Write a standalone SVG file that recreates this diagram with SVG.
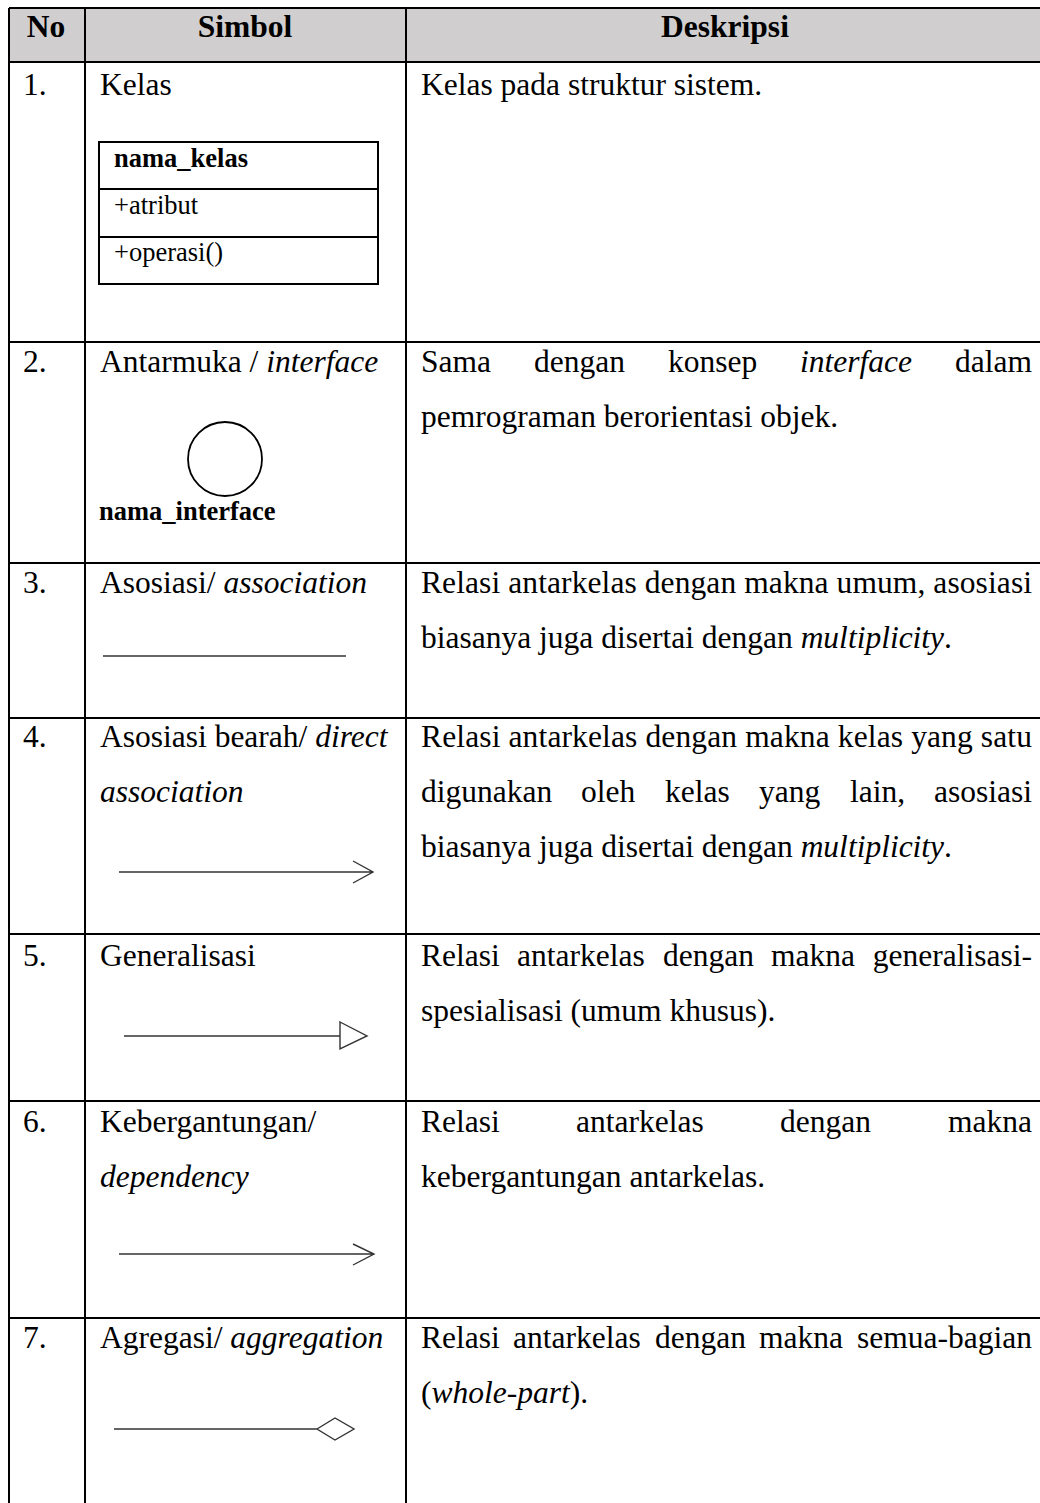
<svg xmlns="http://www.w3.org/2000/svg" width="1040" height="1503" viewBox="0 0 1040 1503">
<style>
.t{font-family:"Liberation Serif","Times New Roman",serif;font-size:31.5px;fill:#000}
.b{font-weight:bold}
.i{font-style:italic}
.s{font-family:"Liberation Serif","Times New Roman",serif;font-size:26.5px;fill:#000}
.grid{stroke:#000;stroke-width:2;fill:none}
.sym{stroke:#333;stroke-width:1.4;fill:none}
.box{stroke:#000;stroke-width:2;fill:#fff}
</style>
<rect width="1040" height="1503" fill="#fff"/>
<g id="table">
<rect x="9" y="8" width="1040" height="54" fill="#d0cece"/>
<path class="grid" d="M9 8H1040M9 62H1040M9 342H1040M9 563H1040M9 718H1040M9 934H1040M9 1101H1040M9 1318H1040M9 8V1503M85 8V1503M406 8V1503"/>
</g>
<g id="header">
<text class="t b" x="46" y="37" text-anchor="middle">No</text>
<text class="t b" x="245" y="37" text-anchor="middle">Simbol</text>
<text class="t b" x="725" y="37" text-anchor="middle">Deskripsi</text>
</g>
<g id="row1">
<text class="t" x="23" y="95">1.</text>
<text class="t" x="100" y="95">Kelas</text>
<g id="class-symbol">
<rect class="box" x="99" y="142" width="279" height="142"/>
<path class="grid" d="M99 189H378M99 237H378"/>
<text class="s b" x="114" y="167">nama_kelas</text>
<text class="s" x="114" y="214">+atribut</text>
<text class="s" x="114" y="261">+operasi()</text>
</g>
<text class="t" x="421" y="95">Kelas pada struktur sistem.</text>
</g>
<g id="row2">
<text class="t" x="23" y="372">2.</text>
<text class="t" x="100" y="372">Antarmuka / <tspan class="i">interface</tspan></text>
<circle cx="225" cy="459" r="37" stroke="#000" stroke-width="1.8" fill="none"/>
<text class="s b" x="99" y="520">nama_interface</text>
<text class="t" y="372"><tspan x="421">Sama</tspan><tspan x="534">dengan</tspan><tspan x="668">konsep</tspan><tspan x="800" class="i">interface</tspan><tspan x="1032" text-anchor="end">dalam</tspan></text>
<text class="t" x="421" y="427">pemrograman berorientasi objek.</text>
</g>
<g id="row3">
<text class="t" x="23" y="593">3.</text>
<text class="t" x="100" y="593">Asosiasi/ <tspan class="i">association</tspan></text>
<text class="t" x="421" y="593" textLength="611" lengthAdjust="spacing">Relasi antarkelas dengan makna umum, asosiasi</text>
<text class="t" x="421" y="648">biasanya juga disertai dengan <tspan class="i">multiplicity</tspan>.</text>
</g>
<g id="row4">
<text class="t" x="23" y="747">4.</text>
<text class="t" x="100" y="747">Asosiasi bearah/ <tspan class="i">direct</tspan></text>
<text class="t i" x="100" y="802">association</text>
<text class="t" x="421" y="747" textLength="611" lengthAdjust="spacing">Relasi antarkelas dengan makna kelas yang satu</text>
<text class="t" y="802"><tspan x="421">digunakan</tspan><tspan x="581">oleh</tspan><tspan x="665">kelas</tspan><tspan x="759">yang</tspan><tspan x="850">lain,</tspan><tspan x="1032" text-anchor="end">asosiasi</tspan></text>
<text class="t" x="421" y="857">biasanya juga disertai dengan <tspan class="i">multiplicity</tspan>.</text>
</g>
<g id="row5">
<text class="t" x="23" y="966">5.</text>
<text class="t" x="100" y="966">Generalisasi</text>
<text class="t" y="966"><tspan x="421">Relasi</tspan><tspan x="517">antarkelas</tspan><tspan x="663">dengan</tspan><tspan x="771">makna</tspan><tspan x="1032" text-anchor="end">generalisasi-</tspan></text>
<text class="t" x="421" y="1021">spesialisasi (umum khusus).</text>
</g>
<g id="row6">
<text class="t" x="23" y="1132">6.</text>
<text class="t" x="100" y="1132">Kebergantungan/</text>
<text class="t i" x="100" y="1187">dependency</text>
<text class="t" y="1132"><tspan x="421">Relasi</tspan><tspan x="576">antarkelas</tspan><tspan x="780">dengan</tspan><tspan x="1032" text-anchor="end">makna</tspan></text>
<text class="t" x="421" y="1187">kebergantungan antarkelas.</text>
</g>
<g id="row7">
<text class="t" x="23" y="1348">7.</text>
<text class="t" x="100" y="1348">Agregasi/ <tspan class="i">aggregation</tspan></text>
<text class="t" y="1348"><tspan x="421">Relasi</tspan><tspan x="513">antarkelas</tspan><tspan x="655">dengan</tspan><tspan x="759">makna</tspan><tspan x="1032" text-anchor="end">semua-bagian</tspan></text>
<text class="t" x="421" y="1403">(<tspan class="i">whole-part</tspan>).</text>
</g>
<g id="connectors">
<path id="association" class="sym" d="M103 656H346"/>
<path id="direct-association" class="sym" d="M119 872H373M353 861L373 872L353 883"/>
<path id="generalization" class="sym" d="M124 1036H340M340 1022L367 1036L340 1049Z"/>
<path id="dependency" class="sym" d="M119 1254H374M353 1244L374 1254L353 1265"/>
<path id="aggregation" class="sym" d="M114 1429H317M317 1429L335 1418L354 1429L335 1440Z"/>
</g>
</svg>
